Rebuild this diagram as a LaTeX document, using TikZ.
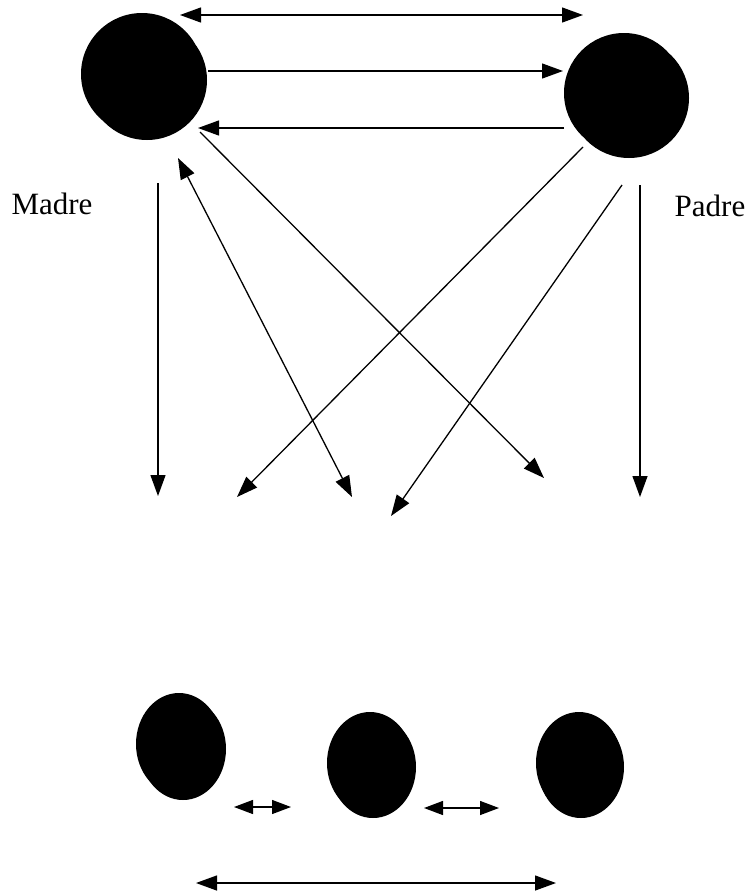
\documentclass[tikz,border=0pt]{standalone}
\usepackage{fontspec}
\setmainfont{Liberation Serif}
\usetikzlibrary{arrows.meta}
\tikzset{
  blob/.style={fill=black},
  link/.style={line width=1.3pt,-{Triangle[length=21pt,width=15pt]}},
  dlink/.style={line width=1.3pt,{Triangle[length=21pt,width=15pt]}-{Triangle[length=21pt,width=15pt]}},
  slink/.style={line width=1.3pt,{Triangle[length=19pt,width=14pt]}-{Triangle[length=19pt,width=14pt]}},
  lab/.style={font=\fontsize{31}{36}\selectfont,inner sep=0pt,anchor=base}
}
\begin{document}
\begin{tikzpicture}[x=1pt,y=-1pt]
\useasboundingbox (0,0) rectangle (749,892);
% blobs
\fill[blob] (142,74) circle (61pt) (147,80) circle (60pt);
\fill[blob] (624,93) circle (60pt) (629,98) circle (60pt);
\fill[blob] (179,744) ellipse [x radius=43pt, y radius=51pt];
\fill[blob] (183,749) ellipse [x radius=43pt, y radius=51pt];
\fill[blob] (370,763) ellipse [x radius=43pt, y radius=51pt];
\fill[blob] (373,767) ellipse [x radius=43pt, y radius=51pt];
\fill[blob] (579,763) ellipse [x radius=43pt, y radius=51pt];
\fill[blob] (581,767) ellipse [x radius=43pt, y radius=51pt];
% labels
\node[lab] (madre) at (52,214) {Madre};
\node[lab] (padre) at (710,216) {Padre};
% coordinates
\coordinate (t1a) at (180,15);  \coordinate (t1b) at (583,15);
\coordinate (t2a) at (208,71);  \coordinate (t2b) at (563,71);
\coordinate (t3a) at (564,128); \coordinate (t3b) at (198,128);
\coordinate (d1a) at (200,132); \coordinate (d1b) at (544,478);
\coordinate (v1a) at (158,183); \coordinate (v1b) at (158,496);
\coordinate (d2a) at (178,158); \coordinate (d2b) at (352,497);
\coordinate (p1a) at (583,147); \coordinate (p1b) at (237,497);
\coordinate (p2a) at (622,185); \coordinate (p2b) at (391,516);
\coordinate (v2a) at (640,185); \coordinate (v2b) at (640,497);
\coordinate (s1a) at (234,807); \coordinate (s1b) at (291,807);
\coordinate (s2a) at (424,808); \coordinate (s2b) at (499,808);
\coordinate (b1a) at (196,883); \coordinate (b1b) at (556,883);
% connectors
\draw[dlink] (t1a) -- (t1b);
\draw[link] (t2a) -- (t2b);
\draw[link] (t3a) -- (t3b);
\draw[link] (d1a) -- (d1b);
\draw[link] (v1a) -- (v1b);
\draw[dlink] (d2a) -- (d2b);
\draw[link] (p1a) -- (p1b);
\draw[link] (p2a) -- (p2b);
\draw[link] (v2a) -- (v2b);
\draw[slink] (s1a) -- (s1b);
\draw[slink] (s2a) -- (s2b);
\draw[dlink] (b1a) -- (b1b);
\end{tikzpicture}
\end{document}
